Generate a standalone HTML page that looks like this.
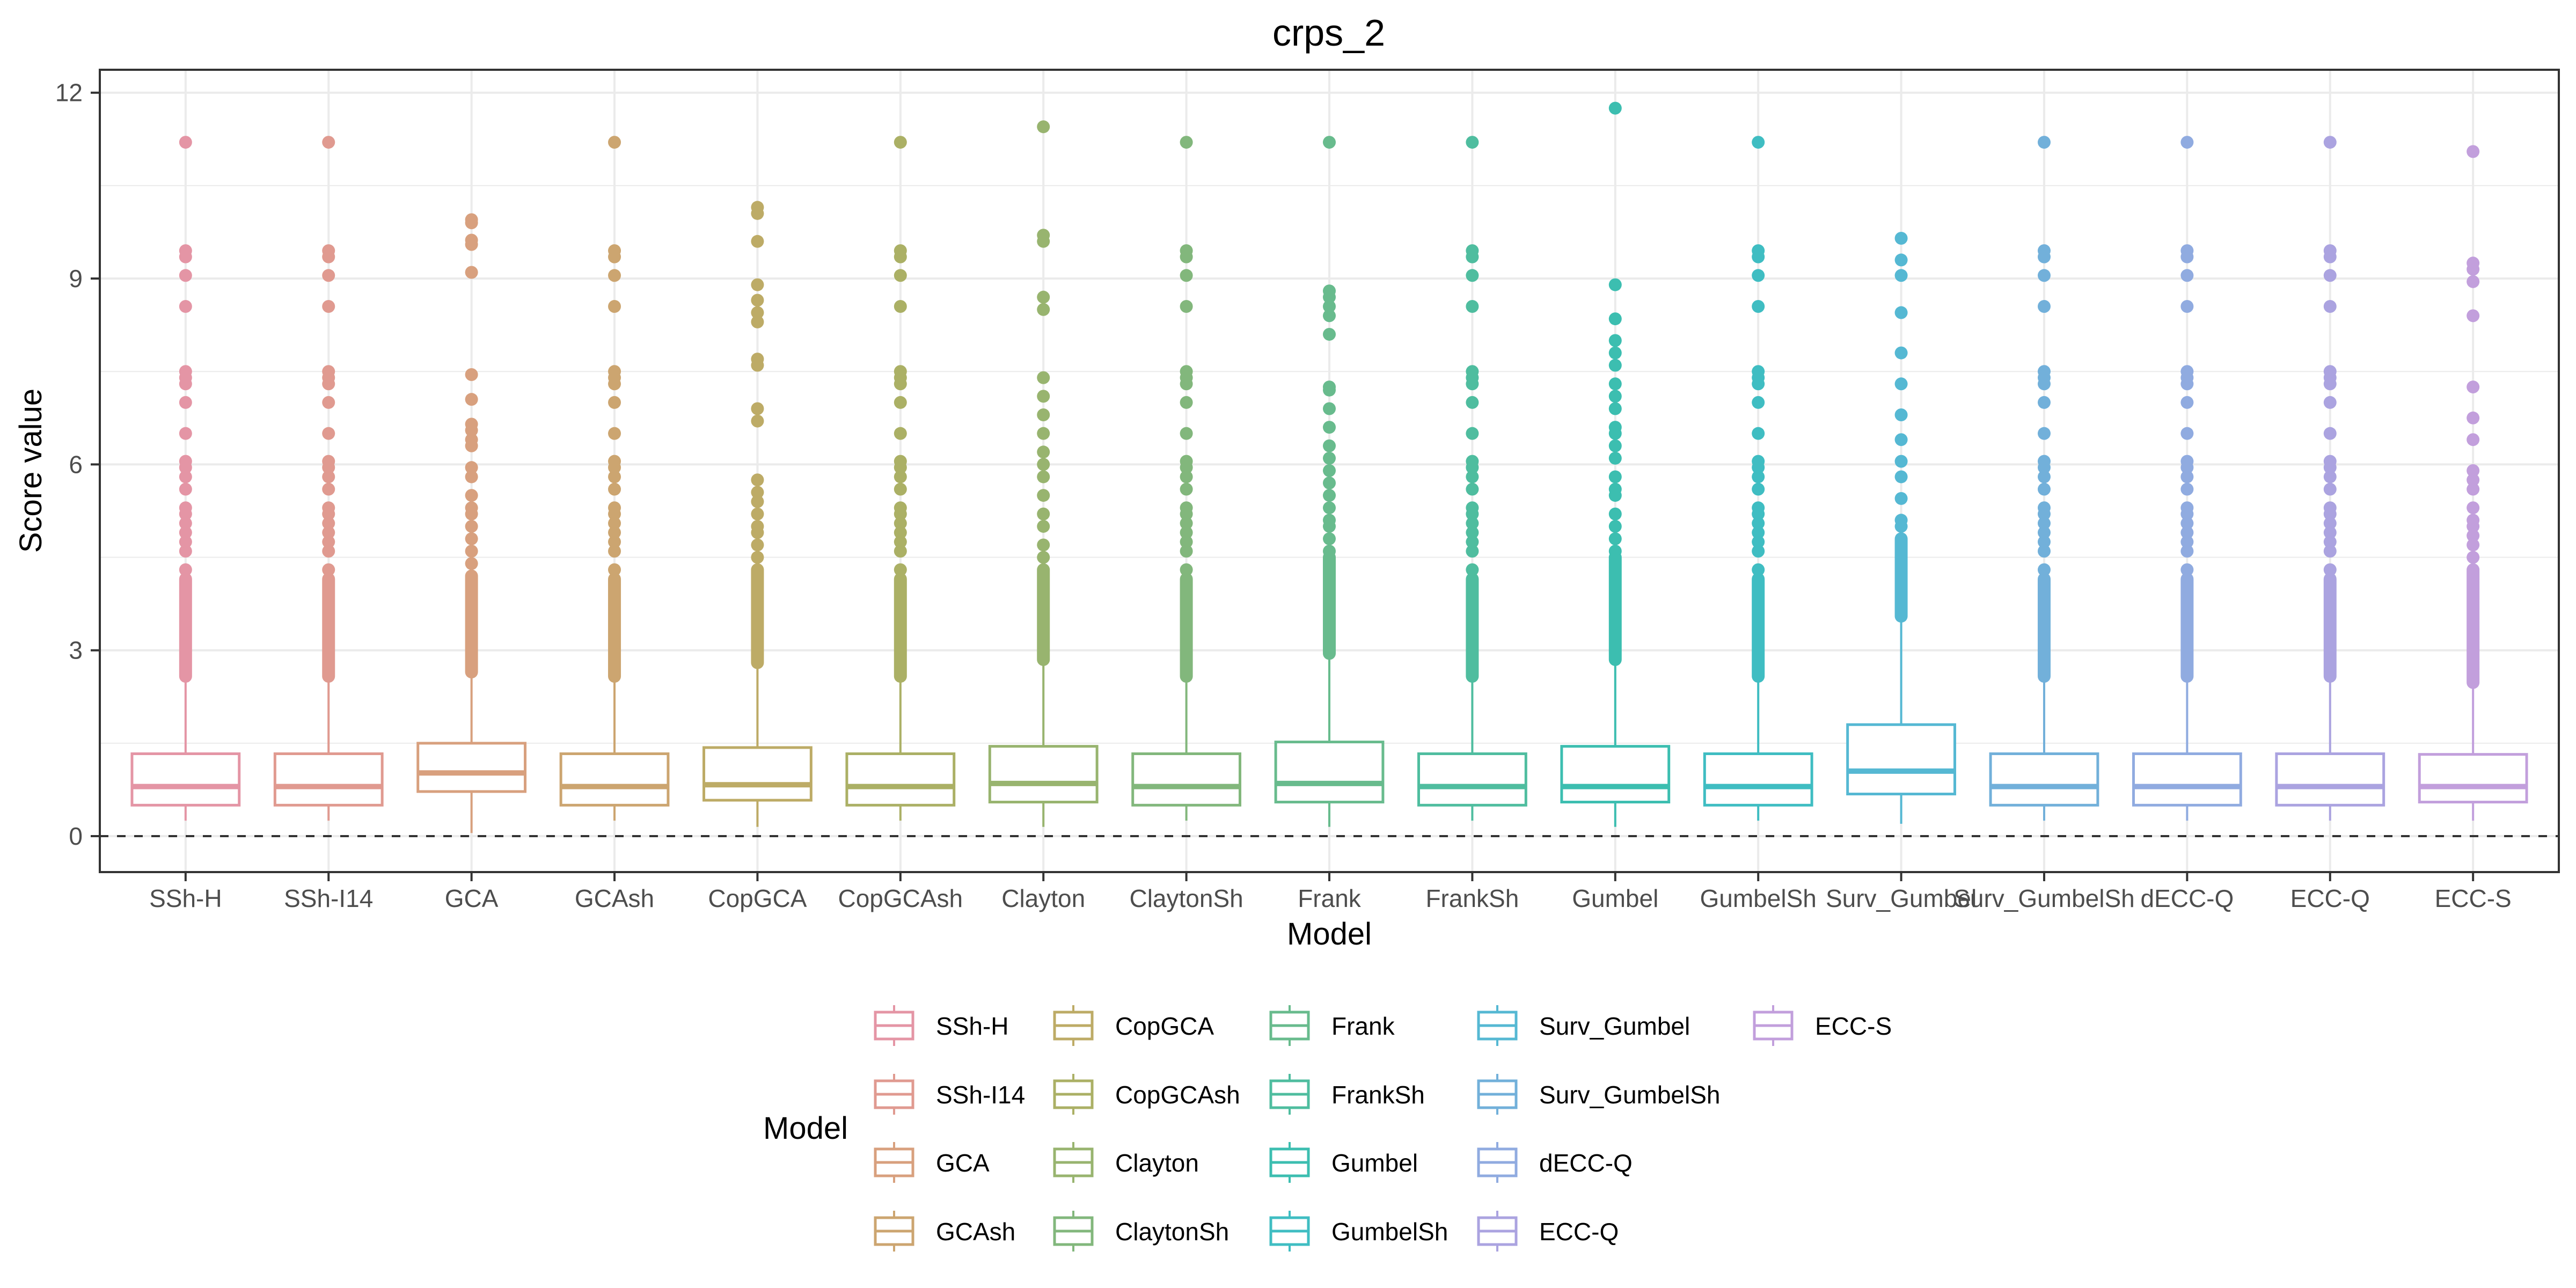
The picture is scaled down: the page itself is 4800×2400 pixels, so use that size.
<!DOCTYPE html>
<html><head><meta charset="utf-8"><title>crps_2</title>
<style>html,body{margin:0;padding:0;background:#fff}svg{display:block}text{font-family:"Liberation Sans",Arial,sans-serif}</style>
</head><body>
<svg id="chart" width="4800" height="2400" viewBox="0 0 4800 2400" xmlns="http://www.w3.org/2000/svg">
<rect width="4800" height="2400" fill="#fff"/>
<text x="2476" y="85" font-size="70" text-anchor="middle" fill="#000">crps_2</text>
<g id="grid"></g>
<g id="marks"></g>
<rect x="186" y="130" width="4582" height="1495" fill="none" stroke="#333" stroke-width="4"/>
<g id="axes"></g>
<text transform="translate(77,877) rotate(-90)" font-size="58" text-anchor="middle" fill="#000">Score value</text>
<text x="2477" y="1760" font-size="58" text-anchor="middle" fill="#000">Model</text>
<text x="1422" y="2122" font-size="58" fill="#000">Model</text>
<g id="legend"></g>
</svg>
<script>
const categories = ["SSh-H","SSh-I14","GCA","GCAsh","CopGCA","CopGCAsh","Clayton","ClaytonSh","Frank","FrankSh","Gumbel","GumbelSh","Surv_Gumbel","Surv_GumbelSh","dECC-Q","ECC-Q","ECC-S"];
const colors = ["#E495A5","#E09A90","#D8A07E","#CCA570","#BDAB66","#ABB065","#98B46F","#82B77C","#68BB8D","#4FBD9F","#3CBEB0","#3FBDC2","#55B8D3","#72B0DA","#90ABE0","#ABA3E0","#C29FDC"];
const q1 = [0.50,0.50,0.72,0.50,0.58,0.50,0.55,0.50,0.55,0.50,0.55,0.50,0.68,0.50,0.50,0.50,0.55];
const medians = [0.80,0.80,1.02,0.80,0.83,0.80,0.85,0.80,0.85,0.80,0.80,0.80,1.05,0.80,0.80,0.80,0.80];
const q3 = [1.33,1.33,1.50,1.33,1.43,1.33,1.45,1.33,1.52,1.33,1.45,1.33,1.80,1.33,1.33,1.33,1.32];
const whiskerLow = [0.25,0.25,0.05,0.25,0.15,0.25,0.15,0.25,0.15,0.25,0.15,0.25,0.20,0.25,0.25,0.25,0.25];
const whiskerHigh = [2.50,2.50,2.60,2.50,2.75,2.50,2.80,2.50,2.90,2.50,2.80,2.50,3.50,2.50,2.50,2.50,2.40];
const denseLow = [2.58,2.58,2.65,2.58,2.80,2.58,2.85,2.58,2.95,2.58,2.85,2.58,3.55,2.58,2.58,2.58,2.48];
const denseHigh = [4.15,4.15,4.20,4.15,4.30,4.15,4.30,4.15,4.50,4.15,4.50,4.15,4.80,4.15,4.15,4.15,4.30];
const shOut = [4.3,4.6,4.75,4.9,5.05,5.2,5.3,5.6,5.8,5.95,6.05,6.5,7.0,7.3,7.4,7.5,8.55,9.05,9.35,9.45,11.2];
const outliers = [
 shOut, shOut,
 [4.4,4.6,4.8,5.0,5.2,5.3,5.5,5.8,5.95,6.3,6.4,6.55,6.65,7.05,7.45,9.1,9.55,9.62,9.9,9.95],
 shOut,
 [4.5,4.7,4.9,5.0,5.2,5.4,5.55,5.75,6.7,6.9,7.6,7.7,8.3,8.45,8.65,8.9,9.6,10.05,10.15],
 shOut,
 [4.5,4.7,5.0,5.2,5.5,5.8,6.0,6.2,6.5,6.8,7.1,7.4,8.5,8.7,9.6,9.7,11.45],
 shOut,
 [4.6,4.8,5.0,5.1,5.3,5.5,5.7,5.9,6.1,6.3,6.6,6.9,7.2,7.25,8.1,8.4,8.55,8.7,8.8,11.2],
 shOut,
 [4.6,4.8,5.0,5.2,5.5,5.6,5.8,6.1,6.3,6.5,6.6,6.9,7.1,7.3,7.6,7.8,8.0,8.35,8.9,11.75],
 shOut,
 [5.0,5.1,5.45,5.8,6.05,6.4,6.8,7.3,7.8,8.45,9.05,9.3,9.65],
 shOut, shOut, shOut,
 [4.5,4.7,4.85,5.0,5.1,5.3,5.6,5.75,5.9,6.4,6.75,7.25,8.4,8.95,9.15,9.25,11.05]
];
const yTicks = [0,3,6,9,12];
const yTickLabels = ["0","3","6","9","12"];
const yMinor = [1.5,4.5,7.5,10.5];
const legendColumns = [["SSh-H","SSh-I14","GCA","GCAsh"],["CopGCA","CopGCAsh","Clayton","ClaytonSh"],["Frank","FrankSh","Gumbel","GumbelSh"],["Surv_Gumbel","Surv_GumbelSh","dECC-Q","ECC-Q"],["ECC-S"]];

const NS = "http://www.w3.org/2000/svg";
const PL = 186, PR = 4768, PT = 130, PB = 1625;
const yMin = -0.58, yMax = 12.37;
function yScale(v){ return PB - (v - yMin) / (yMax - yMin) * (PB - PT); }
const step = (PR - PL) / (categories.length - 1 + 1.2);
function xScale(i){ return PL + (0.6 + i) * step; }
function el(tag, attrs, parent){ const e = document.createElementNS(NS, tag); for (const k in attrs) e.setAttribute(k, attrs[k]); parent.appendChild(e); return e; }

const grid = document.getElementById('grid');
yMinor.forEach(v => {
  const l = el('line', {x1:PL, x2:PR, y1:yScale(v), y2:yScale(v), stroke:'#ebebeb', 'stroke-width':2}, grid);
  
  
});
yTicks.forEach(v => {
  const l = el('line', {x1:PL, x2:PR, y1:yScale(v), y2:yScale(v), stroke:'#ebebeb', 'stroke-width':4}, grid);
  
  
});
categories.forEach((c, i) => {
  const l = el('line', {x1:xScale(i), x2:xScale(i), y1:PT, y2:PB, stroke:'#ebebeb', 'stroke-width':4}, grid);
  
  
});

const marks = document.getElementById('marks');
const bw = 0.75 * step;
categories.forEach((c, i) => {
  const g = el('g', {}, marks);
  
  
  const x = xScale(i), col = colors[i];
  const wl = el('line', {x1:x, x2:x, y1:yScale(q1[i]), y2:yScale(whiskerLow[i]), stroke:col, 'stroke-width':4}, g);
  
  
  const wh = el('line', {x1:x, x2:x, y1:yScale(q3[i]), y2:yScale(whiskerHigh[i]), stroke:col, 'stroke-width':4}, g);
  
  
  const b = el('rect', {x:x-bw/2, y:yScale(q3[i]), width:bw, height:yScale(q1[i])-yScale(q3[i]), fill:'#fff', stroke:col, 'stroke-width':5}, g);
  
  
  const m = el('line', {x1:x-bw/2, x2:x+bw/2, y1:yScale(medians[i]), y2:yScale(medians[i]), stroke:col, 'stroke-width':10}, g);
  
  
  const d = el('line', {x1:x, x2:x, y1:yScale(denseLow[i]), y2:yScale(denseHigh[i]), stroke:col, 'stroke-width':24, 'stroke-linecap':'round'}, g);
  
  
  outliers[i].forEach(v => {
    const p = el('circle', {cx:x, cy:yScale(v), r:12, fill:col}, g);
    
    
  });
});
const zl = el('line', {x1:PL, x2:PR, y1:yScale(0), y2:yScale(0), stroke:'#333', 'stroke-width':4, 'stroke-dasharray':'16 16'}, marks);



const axes = document.getElementById('axes');
yTicks.forEach((v, k) => {
  const t = el('line', {x1:PL-17, x2:PL, y1:yScale(v), y2:yScale(v), stroke:'#333', 'stroke-width':4}, axes);
  
  
  const tx = el('text', {x:154, y:yScale(v)+16, 'font-size':46, 'text-anchor':'end', fill:'#4d4d4d'}, axes);
  tx.textContent = yTickLabels[k];
  
  
});
categories.forEach((c, i) => {
  const t = el('line', {x1:xScale(i), x2:xScale(i), y1:PB, y2:PB+17, stroke:'#333', 'stroke-width':4}, axes);
  
  
  const tx = el('text', {x:xScale(i), y:1690, 'font-size':46, 'text-anchor':'middle', fill:'#4d4d4d'}, axes);
  tx.textContent = c;
  
  
});

const legend = document.getElementById('legend');
const colX = [1666, 2000, 2403, 2790, 3304];
const rowY = [1911, 2039, 2166, 2294];
legendColumns.forEach((col, ci) => {
  col.forEach((name, ri) => {
    const idx = categories.indexOf(name);
    const c = colors[idx];
    const cx = colX[ci], cy = rowY[ri];
    const g = el('g', {}, legend);
    
    
    el('line', {x1:cx, x2:cx, y1:cy-38, y2:cy+38, stroke:c, 'stroke-width':4}, g);
    el('rect', {x:cx-35, y:cy-25, width:70, height:50, fill:'#fff', stroke:c, 'stroke-width':5}, g);
    el('line', {x1:cx-35, x2:cx+35, y1:cy, y2:cy, stroke:c, 'stroke-width':5}, g);
    const tx = el('text', {x:cx+78, y:cy+17, 'font-size':46, fill:'#000'}, g);
    tx.textContent = name;
    
    
  });
});
</script>
</body></html>
